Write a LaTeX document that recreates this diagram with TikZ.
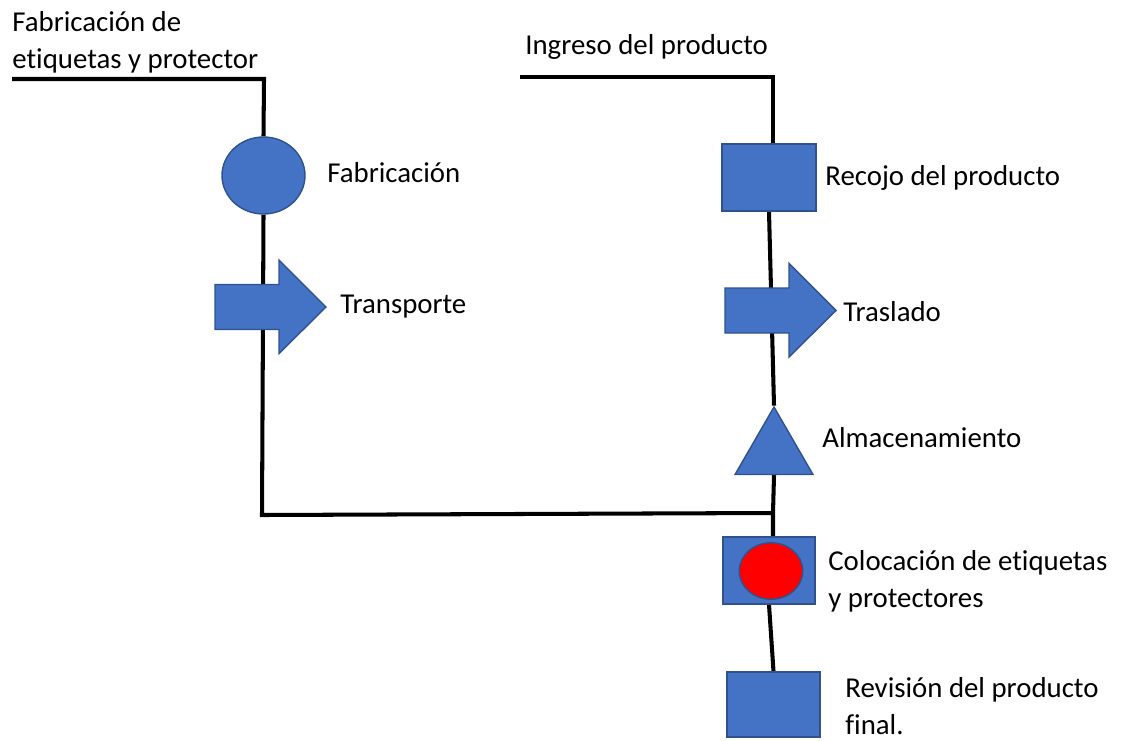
\documentclass[tikz,border=0pt]{standalone}
\usepackage{fontspec}
\setmainfont{Carlito}[Ligatures=CommonOff]
\usetikzlibrary{shapes.geometric,backgrounds}
\definecolor{opfill}{HTML}{4472C4}
\definecolor{opline}{HTML}{2F528F}
\tikzset{
    flow/.style={line width=2.3pt},
    lbl/.style={font=\fontsize{16.4}{21}\selectfont, align=left, anchor=west, inner sep=0pt},
    opcircle/.style={ellipse, fill=opfill, draw=opline, line width=.8pt, inner sep=0pt,
        minimum width=1.66cm, minimum height=1.54cm},
    opbox/.style={rectangle, fill=opfill, draw=opline, line width=.8pt, inner sep=0pt,
        minimum width=1.88cm, minimum height=1.34cm},
    oparrow/.pic={
        \draw[fill=opfill, draw=opline, line width=.8pt] (-55.5, -22.5) -- (8.5, -22.5)
            -- (8.5, -47) -- (55.5, 0) -- (8.5, 46.5) -- (8.5, 22.5) -- (-55.5, 22.5) -- cycle;
    },
    opstore/.style={regular polygon, regular polygon sides=3, fill=opfill, draw=opline,
        line width=.8pt, inner sep=0pt, minimum size=1.8cm},
}
\begin{document}
\begin{tikzpicture}[x=.02cm, y=-.02cm]
    \useasboundingbox (0, 0) rectangle (1121, 740);
    % left branch
    \node[opcircle] (fab) at (263.5, 175.5) {};
    \pic (trans) at (270.5, 307) {oparrow};
    \coordinate (lin) at (12, 79);
    \coordinate (lcorner) at (264, 79);
    \coordinate (ljoin) at (262, 515);
    % right branch
    \node[opbox] (rec) at (769, 177.5) {};
    \pic (tras) at (780.5, 310.5) {oparrow};
    \node[opstore] (alm) at (774, 452) {};
    \node[opbox, minimum width=1.84cm] (col) at (769, 570.5) {};
    \node[ellipse, fill=red, draw=opline, line width=.8pt, inner sep=0pt,
        minimum width=1.27cm, minimum height=1.13cm] (colin) at (771, 571) {};
    \node[opbox, minimum width=1.86cm, minimum height=1.3cm] (rev) at (773.5, 704.5) {};
    \coordinate (rin) at (520, 77);
    \coordinate (rcorner) at (773, 77);
    \coordinate (rjoin) at (773, 513);
    % connectors
    \begin{pgfonlayer}{background}
        \draw[flow] (lin) -- (lcorner) -- (fab.north);
        \draw[flow] (fab.south) -- (ljoin) -- (rjoin);
        \draw[flow] (rin) -- (rcorner) -- (rcorner |- rec.north);
        \draw[flow] (rec.south) -- (alm.corner 1);
        \draw[flow] (alm.south) -- (rjoin) -- (rjoin |- col.north);
        \draw[flow] (col.south) -- (rev.north);
    \end{pgfonlayer}
    % labels
    \node[lbl] (tfab0) at (12, 42) {Fabricación de\\etiquetas y protector};
    \node[lbl] (tfab) at (327, 173) {Fabricación};
    \node[lbl] (ttrans) at (340, 307) {Transporte};
    \node[lbl] (ting) at (525, 47) {Ingreso del producto};
    \node[lbl] (trec) at (825, 178) {Recojo del producto};
    \node[lbl] (ttras) at (843, 312) {Traslado};
    \node[lbl] (talm) at (822, 438) {Almacenamiento};
    \node[lbl] (tcol) at (828, 581) {Colocación de etiquetas\\y protectores};
    \node[lbl] (trev) at (845, 706) {Revisión del producto\\final.};
\end{tikzpicture}
\end{document}
